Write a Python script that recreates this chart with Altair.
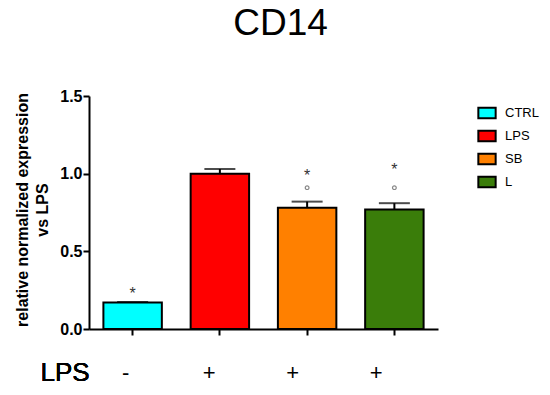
import altair as alt
import pandas as pd

groups = ["CTRL", "LPS", "SB", "L"]
values = [0.17, 1.00, 0.78, 0.77]
errors = [0.004, 0.03, 0.04, 0.04]
colors = ["#00FFFF", "#FF0000", "#FF8000", "#3A7D0A"]
lps_signs = ["-", "+", "+", "+"]
star_groups = ["CTRL", "SB", "L"]
star_y = [0.25, 1.01, 1.05]
circle_groups = ["SB", "L"]
circle_y = [0.91, 0.91]

FONT = "Liberation Sans"
W, H = 349, 233

df = pd.DataFrame({"group": groups, "value": values, "err": errors})
df["top"] = df["value"] + df["err"]
stars = pd.DataFrame({"group": star_groups, "y": star_y})
circles = pd.DataFrame({"group": circle_groups, "y": circle_y})
signs = pd.DataFrame({"group": groups, "sign": lps_signs})

xscale = alt.Scale(domain=groups, paddingInner=0.33, paddingOuter=0.165)
yscale = alt.Scale(domain=[0, 1.5], nice=False)
x = alt.X("group:N", scale=xscale, sort=groups,
          axis=alt.Axis(title=None, labels=False, ticks=True, tickSize=6, tickWidth=2,
                        tickColor="black", domainColor="black", domainWidth=2))
yaxis = alt.Axis(values=[0, 0.5, 1.0, 1.5], format=".1f", grid=False,
                 title=["relative normalized expression", "vs LPS"],
                 titleFont=FONT, titleFontSize=16, titleFontWeight="bold", titleColor="black",
                 titleAngle=-90, titleX=-59, titleY=H / 2 - 3, titleAlign="center",
                 titleLineHeight=20,
                 labelFont=FONT, labelFontSize=16, labelFontWeight="bold", labelColor="black",
                 labelPadding=1,
                 tickSize=6, tickWidth=2, tickColor="black", domainColor="black", domainWidth=2)

bars = alt.Chart(df).mark_bar(stroke="black", strokeWidth=2).encode(
    x=x,
    y=alt.Y("value:Q", scale=yscale, axis=yaxis),
    color=alt.Color("group:N", scale=alt.Scale(domain=groups, range=colors), sort=groups,
                    legend=alt.Legend(title=None, orient="none", legendX=388, legendY=7,
                                      symbolType="M-1,-0.6H1V0.6H-1Z", symbolSize=300,
                                      symbolStrokeColor="black", symbolStrokeWidth=2,
                                      symbolOpacity=1, labelFont=FONT, labelFontSize=13,
                                      labelColor="black", rowPadding=3, labelOffset=8)),
)

err_rule = alt.Chart(df).mark_rule(color="black", strokeWidth=2).encode(
    x=alt.X("group:N", scale=xscale, sort=groups),
    y="value:Q", y2="top:Q")
err_cap = alt.Chart(df).mark_tick(color="black", thickness=2, size=31).encode(
    x=alt.X("group:N", scale=xscale, sort=groups), y="top:Q")

star_marks = alt.Chart(stars).mark_text(text="*", font=FONT, fontSize=16, color="#333333",
                                        baseline="middle", dy=4).encode(
    x=alt.X("group:N", scale=xscale, sort=groups), y="y:Q")
circle_marks = alt.Chart(circles).mark_point(shape="circle", size=14, color="#555555",
                                             strokeWidth=1.2, filled=False).encode(
    x=alt.X("group:N", scale=xscale, sort=groups), y="y:Q")

sign_marks = alt.Chart(signs).mark_text(font=FONT, fontSize=22, color="black",
                                        baseline="middle").encode(
    x=alt.X("group:N", scale=alt.Scale(domain=groups, range=[-5, 329], paddingInner=0,
                                       paddingOuter=0), sort=groups, axis=None),
    y=alt.value(H + 44), text="sign:N")
lps_label = alt.Chart(signs).mark_text(text="LPS", font=FONT, fontSize=26, color="black",
                                       baseline="middle").encode(
    x=alt.value(-24), y=alt.value(H + 44))

main = alt.layer(bars, err_rule, err_cap, star_marks, circle_marks)
chart = alt.layer(main, sign_marks, lps_label).resolve_scale(x="independent").properties(
    width=W, height=H,
    title=alt.TitleParams("CD14", font=FONT, fontSize=37, fontWeight="normal", color="black",
                          anchor="middle", dx=17, offset=45),
    autosize="none",
    padding={"left": 81, "top": 88, "right": 104, "bottom": 58},
).configure_view(stroke=None)

chart.save("out.html", embed_options={"renderer": "svg", "actions": False})
